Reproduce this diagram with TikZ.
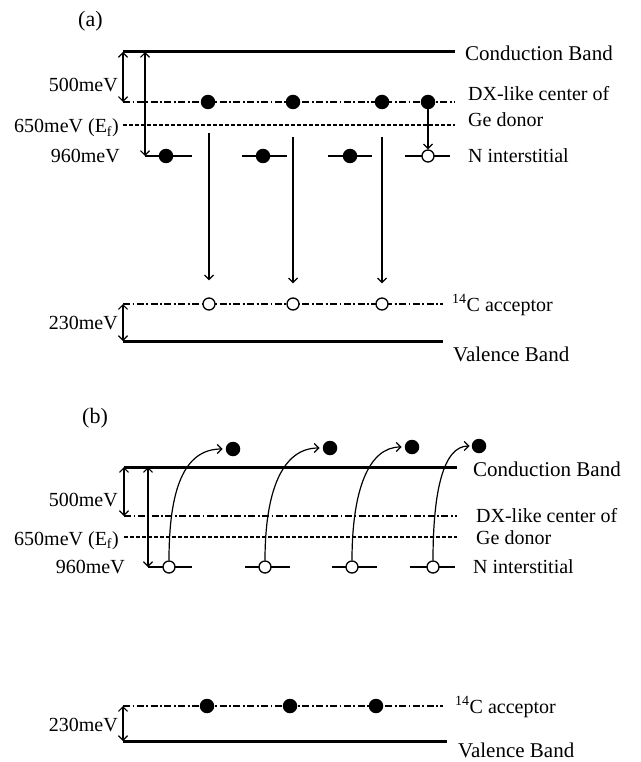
\documentclass[tikz,border=0pt]{standalone}
\usepackage{fontspec}
\setmainfont{Liberation Serif}
\usetikzlibrary{arrows.meta}
\begin{document}
\begin{tikzpicture}[x=1pt,y=-1pt,
 band/.style={line width=3pt},
 dxline/.style={line width=1.2pt, dash pattern=on 7pt off 2.5pt on 1.8pt off 2.5pt},
 efline/.style={line width=1.2pt, dash pattern=on 4pt off 2pt},
 lvl/.style={line width=1.3pt},
 elec/.style={circle, fill=black, minimum size=14.5pt, inner sep=0pt},
 hole/.style={circle, draw=black, fill=white, line width=1.3pt, minimum size=12pt, inner sep=0pt},
 arr/.style={line width=1.2pt, -{Straight Barb[length=4.5pt,width=9pt]}},
 darr/.style={line width=1.2pt, {Straight Barb[length=4.5pt,width=9pt]}-{Straight Barb[length=4.5pt,width=9pt]}},
 lab/.style={font=\fontsize{20}{22}\selectfont, inner sep=0pt},
 blab/.style={font=\fontsize{21}{23}\selectfont, inner sep=0pt},
 tlab/.style={font=\fontsize{22}{24}\selectfont, inner sep=0pt},
]
\useasboundingbox (0,0) rectangle (640,762);

% ================= panel (a) =================
\node[tlab, anchor=base west] (ta) at (78,27) {(a)};
% coordinates of level ends
\coordinate (cbAl) at (123,52);  \coordinate (cbAr) at (455,52);
\coordinate (dxAl) at (123,102); \coordinate (dxAr) at (455,102);
\coordinate (efAl) at (123,125); \coordinate (efAr) at (455,125);
\coordinate (acAl) at (123,304); \coordinate (acAr) at (443,304);
\coordinate (vbAl) at (123,341); \coordinate (vbAr) at (443,341);
\coordinate (lgAt) at (145,52);  \coordinate (lgAb) at (145,156);

\draw[band] (cbAl) -- (cbAr);
\draw[dxline] (dxAl) -- (dxAr);
\draw[efline] (efAl) -- (efAr);
\draw[dxline] (acAl) -- (acAr);
\draw[band] (vbAl) -- (vbAr);

% N interstitial segments
\draw[lvl] (lgAb) -- (192,156);
\draw[lvl] (242,156) -- (287,156);
\draw[lvl] (328,156) -- (372,156);
\draw[lvl] (405,156) -- (450,156);

% energy arrows
\draw[darr] (cbAl) -- (dxAl);
\draw[darr] (lgAt) -- (lgAb);
\draw[darr] (acAl) -- (vbAl);

% dots
\node[elec] (dxA1) at (208,102) {};
\node[elec] (dxA2) at (293,102) {};
\node[elec] (dxA3) at (382,102) {};
\node[elec] (dxA4) at (428,102) {};
\node[elec] (niA1) at (166,156) {};
\node[elec] (niA2) at (263,156) {};
\node[elec] (niA3) at (350,156) {};
\node[hole] (niA4) at (428,156) {};
\node[hole] (acA1) at (209,304) {};
\node[hole] (acA2) at (293,304) {};
\node[hole] (acA3) at (382,304) {};

% recombination arrows
\coordinate (vA1) at (209,133);
\coordinate (vA2) at (293,137);
\coordinate (vA3) at (382,137);
\draw[arr, shorten >=17pt] (vA1) -- (acA1);
\draw[arr, shorten >=14pt] (vA2) -- (acA2);
\draw[arr, shorten >=14pt] (vA3) -- (acA3);
\draw[arr] (dxA4) -- (niA4);

% labels
\node[lab, anchor=base east] (a500) at (118,91.5) {500meV};
\node[lab, anchor=base east] (a650) at (119,133) {650meV (E\textsubscript{f})};
\node[lab, anchor=base east] (a960) at (120,163) {960meV};
\node[lab, anchor=base east] (a230) at (118,329) {230meV};
\node[blab, anchor=base west] (aCB) at (465,60.5) {Conduction Band};
\node[lab, anchor=base west] (aDX) at (468,100.5) {DX-like center of};
\node[lab, anchor=base west] (aGe) at (468,126.5) {Ge donor};
\node[lab, anchor=base west] (aNi) at (468,163) {N interstitial};
\node[lab, anchor=base west] (aAc) at (452,311.5) {\textsuperscript{14}C acceptor};
\node[blab, anchor=base west] (aVB) at (453,361) {Valence Band};

% ================= panel (b) =================
\node[tlab, anchor=base west] (tb) at (82,423) {(b)};
\coordinate (cbBl) at (124,467); \coordinate (cbBr) at (457,467);
\coordinate (dxBl) at (124,516); \coordinate (dxBr) at (457,516);
\coordinate (efBl) at (124,537); \coordinate (efBr) at (457,537);
\coordinate (acBl) at (123,706); \coordinate (acBr) at (443,706);
\coordinate (vbBl) at (123,741); \coordinate (vbBr) at (447,741);
\coordinate (lgBt) at (148,467); \coordinate (lgBb) at (148,567);

\draw[band] (cbBl) -- (cbBr);
\draw[dxline] (dxBl) -- (dxBr);
\draw[efline] (efBl) -- (efBr);
\draw[dxline] (acBl) -- (acBr);
\draw[band] (vbBl) -- (vbBr);

\draw[lvl] (lgBb) -- (192,567);
\draw[lvl] (245,567) -- (290,567);
\draw[lvl] (332,567) -- (377,567);
\draw[lvl] (410,567) -- (455,567);

\draw[darr] (cbBl) -- (dxBl);
\draw[darr] (lgBt) -- (lgBb);
\draw[darr] (acBl) -- (vbBl);

\node[hole] (niB1) at (169,567) {};
\node[hole] (niB2) at (265,567) {};
\node[hole] (niB3) at (352,567) {};
\node[hole] (niB4) at (433,567) {};
\node[elec] (cbB1) at (233,449) {};
\node[elec] (cbB2) at (330,448) {};
\node[elec] (cbB3) at (412,447) {};
\node[elec] (cbB4) at (479,446) {};
\node[elec] (acB1) at (207,706) {};
\node[elec] (acB2) at (290,706) {};
\node[elec] (acB3) at (376,706) {};

\draw[arr, shorten >=3pt] (niB1.north) .. controls +(0,-70) and +(-42,0) .. (cbB1.west);
\draw[arr, shorten >=3pt] (niB2.north) .. controls +(0,-70) and +(-40,0) .. (cbB2.west);
\draw[arr, shorten >=3pt] (niB3.north) .. controls +(0,-70) and +(-36,0) .. (cbB3.west);
\draw[arr, shorten >=2pt] (niB4.north) .. controls +(0,-70) and +(-28,0) .. (cbB4.west);

\node[lab, anchor=base east] (b500) at (118,506) {500meV};
\node[lab, anchor=base east] (b650) at (119,545) {650meV (E\textsubscript{f})};
\node[lab, anchor=base east] (b960) at (125,573) {960meV};
\node[lab, anchor=base east] (b230) at (118,731) {230meV};
\node[blab, anchor=base west] (bCB) at (473,476) {Conduction Band};
\node[lab, anchor=base west] (bDX) at (476,522) {DX-like center of};
\node[lab, anchor=base west] (bGe) at (476,544) {Ge donor};
\node[lab, anchor=base west] (bNi) at (473,573) {N interstitial};
\node[lab, anchor=base west] (bAc) at (455,713) {\textsuperscript{14}C acceptor};
\node[blab, anchor=base west] (bVB) at (458,757) {Valence Band};
\end{tikzpicture}
\end{document}
